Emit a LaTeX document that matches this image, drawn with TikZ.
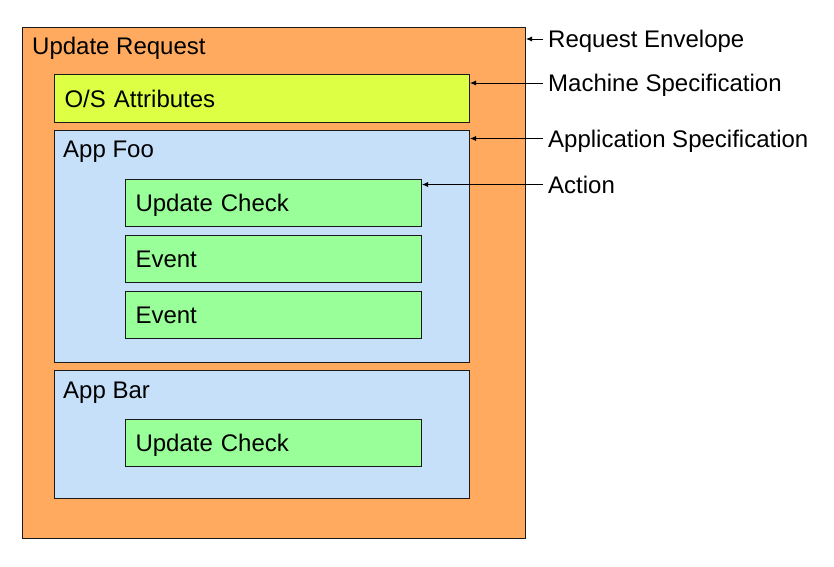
\documentclass[tikz,border=0pt]{standalone}
\usepackage{fontspec}
\setmainfont{Liberation Sans}
\usepackage{xcolor}
\usepackage{tikz}
\usetikzlibrary{positioning, arrows.meta}
\definecolor{envorange}{HTML}{FFAA5E}
\definecolor{osyellow}{HTML}{DDFF44}
\definecolor{appblue}{HTML}{C6E0FA}
\definecolor{actgreen}{HTML}{99FF99}
\definecolor{edgegray}{HTML}{1A1A1A}

\begin{document}
\begin{tikzpicture}[x=1pt, y=-1pt,
    every node/.style={font=\fontsize{24pt}{28pt}\selectfont},
    box/.style={draw=edgegray, line width=1pt, anchor=north west, inner sep=0pt},
    title/.style={inner sep=0pt, text height=17pt, text depth=0pt},
    item/.style={box, inner xsep=10pt, align=left, text height=17pt, text depth=0pt},
    lbl/.style={anchor=west, inner xsep=5pt, inner ysep=0pt, text height=17pt, text depth=0pt},
    arr/.style={-{Latex[length=6pt, width=5pt]}, line width=0.8pt}]
    \useasboundingbox (0,0) rectangle (834,566);

    % outer envelope
    \node[box, fill=envorange, minimum width=503pt, minimum height=511pt] (envelope) at (22,27) {};
    \node[title, below right=10pt and 10pt of envelope.north west] (envtitle) {Update Request};

    % machine part
    \node[item, fill=osyellow, text width=395pt, minimum height=48pt] (osattr) at (54,74) {O/S Attributes};

    % first application
    \node[box, fill=appblue, minimum width=415pt, minimum height=232pt] (appfoo) at (54,130) {};
    \node[title, below right=10pt and 9pt of appfoo.north west] (footitle) {App Foo};
    \node[item, fill=actgreen, text width=276pt, minimum height=47pt] (foocheck) at (125,179) {Update Check};
    \node[item, fill=actgreen, text width=276pt, minimum height=47pt] (fooeventa) at (125,235) {Event};
    \node[item, fill=actgreen, text width=276pt, minimum height=47pt] (fooeventb) at (125,291) {Event};

    % second application
    \node[box, fill=appblue, minimum width=415pt, minimum height=128pt] (appbar) at (54,370) {};
    \node[title, below right=11pt and 9pt of appbar.north west] (bartitle) {App Bar};
    \node[item, fill=actgreen, text width=276pt, minimum height=47pt] (barcheck) at (125,419) {Update Check};

    % legend on the right
    \node[lbl] (envlbl) at (543,39) {Request Envelope};
    \node[lbl] (machlbl) at (543,83) {Machine Specification};
    \node[lbl] (applbl) at (543,138.5) {Application Specification};
    \node[lbl] (actlbl) at (543,184.5) {Action};

    \draw[arr] (envlbl.west) -- (envlbl.west -| envelope.east);
    \draw[arr] (machlbl.west) -- (machlbl.west -| osattr.east);
    \draw[arr] (applbl.west) -- (applbl.west -| appfoo.east);
    \draw[arr] (actlbl.west) -- (actlbl.west -| foocheck.east);
\end{tikzpicture}
\end{document}
